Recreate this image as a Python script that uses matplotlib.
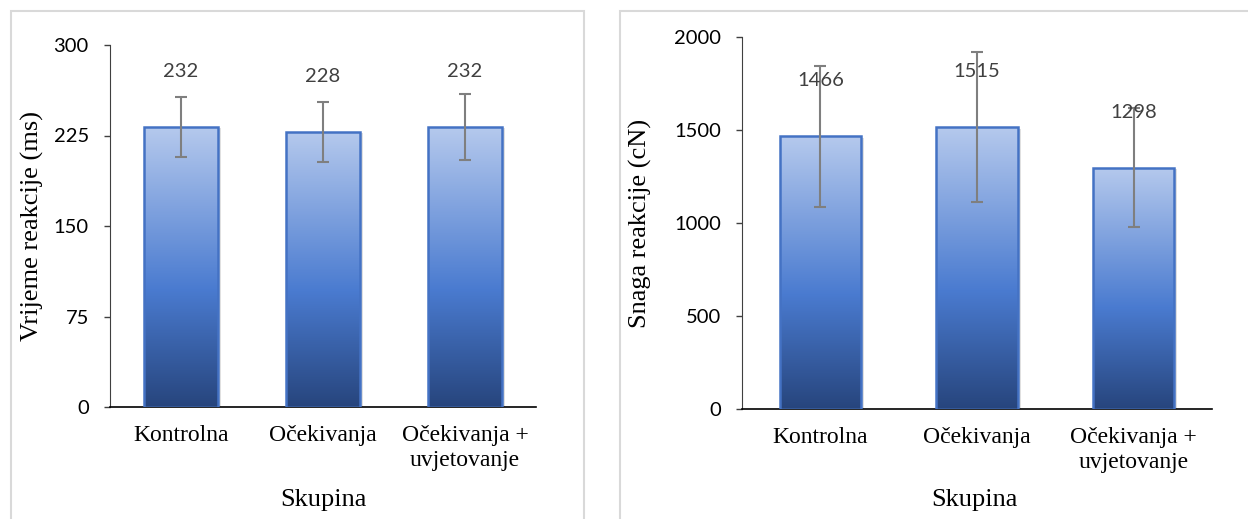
import matplotlib.pyplot as plt
import numpy as np
from matplotlib.patches import Rectangle
from matplotlib.colors import LinearSegmentedColormap
import matplotlib.patheffects as pe

# data
groups = ['Kontrolna', 'Očekivanja', 'Očekivanja +\nuvjetovanje']
time_vals = [232, 228, 232]
time_err = [25, 25, 27]
force_vals = [1466, 1515, 1298]
force_err = [380, 403, 322]

W, H = 1248, 519
fig = plt.figure(figsize=(W / 100, H / 100), dpi=100)

grad = LinearSegmentedColormap.from_list(
    'bar', [(0.0, '#27457d'), (0.42, '#4a7bd0'), (1.0, '#b5c9ed')])
serif = 'Liberation Serif'
sans = 'Lato'


def panel(rect, vals, err, ylim, yticks, ylabel, ylabel_x, ylabel_y, xlabel_x):
    ax = fig.add_axes(rect)
    x = np.arange(len(vals))
    # soft shadow
    ax.bar(x, vals, width=0.52, facecolor='none', edgecolor='none', zorder=1.5,
           path_effects=[pe.SimplePatchShadow(offset=(2, -1), shadow_rgbFace='k', alpha=0.12)])
    bars = ax.bar(x, vals, width=0.52, facecolor='none', edgecolor='#4472c4',
                  linewidth=1.8, zorder=3)
    g = np.linspace(0, 1, 256).reshape(-1, 1)
    for b in bars:
        im = ax.imshow(g, cmap=grad, origin='lower', aspect='auto',
                       extent=(b.get_x(), b.get_x() + b.get_width(), 0, b.get_height()),
                       zorder=2)
        im.set_clip_path(b)
    ax.errorbar(x, vals, yerr=err, fmt='none', ecolor='#7f7f7f', elinewidth=1.5,
                capsize=4.5, capthick=1.5, zorder=4)
    for xi, v in zip(x, vals):
        ax.annotate(str(v), (xi, v), xytext=(0, 40), textcoords='offset points',
                    ha='center', va='center', fontsize=14.5, color='#404040',
                    family=sans, zorder=5)
    ax.set_xlim(-0.5, len(vals) - 0.5)
    ax.set_ylim(*ylim)
    ax.set_yticks(yticks)
    ax.set_xticks(x)
    ax.set_xticklabels(groups, family=serif, fontsize=17, linespacing=1.25)
    for lab in ax.get_yticklabels():
        lab.set_family(sans)
        lab.set_fontsize(14.5)
    ax.tick_params(axis='x', length=0, pad=13)
    ax.tick_params(axis='y', length=4.3, width=1, pad=11, color='#404040')
    for s in ['top', 'right']:
        ax.spines[s].set_visible(False)
    ax.spines['left'].set_color('#404040')
    ax.spines['bottom'].set_color('#000000')
    ax.spines['bottom'].set_linewidth(1.2)
    fig.text(ylabel_x, ylabel_y, ylabel, rotation=90, ha='center', va='center',
             family=serif, fontsize=19)
    fig.text(xlabel_x, 1 - 500 / H, 'Skupina', ha='center', va='center',
             family=serif, fontsize=19)
    return ax


# panel borders
for x0, w in [(11, 573), (620, 700)]:
    fig.patches.append(Rectangle((x0 / W, -0.1), w / W, 1.1 - 11 / H, transform=fig.transFigure,
                                 facecolor='none', edgecolor='#d9d9d9', linewidth=1.5))

panel([110 / W, 1 - 407 / H, 426 / W, 362 / H], time_vals, time_err, (0, 300),
      [0, 75, 150, 225, 300], 'Vrijeme reakcije (ms)', 32 / W, 1 - 226 / H, 323 / W)
panel([742 / W, 1 - 409 / H, 470 / W, 372 / H], force_vals, force_err, (0, 2000),
      [0, 500, 1000, 1500, 2000], 'Snaga reakcije (cN)', 640 / W, 1 - 223 / H, 974 / W)

fig.savefig('out.png', dpi=100)
